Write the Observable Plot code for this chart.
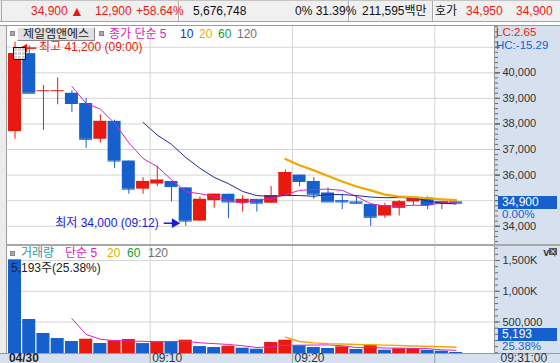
<!DOCTYPE html>
<html><head><meta charset="utf-8">
<script src="https://cdn.jsdelivr.net/npm/d3@7"></script>
<script src="https://cdn.jsdelivr.net/npm/@observablehq/plot@0.6"></script>
<style>
html,body{margin:0;padding:0;background:#fff;}
#wrap{position:relative;width:560px;height:363px;overflow:hidden;background:#fff;font-family:"Liberation Sans","Noto Sans CJK KR",sans-serif;}
#wrap .a{position:absolute;white-space:nowrap;}
#wrap svg{position:absolute;left:0;overflow:visible;}
</style></head>
<body><div id="wrap"></div>
<script>
// ---------- data ----------
const stockName = "제일엠앤에스";
const dateLabel = "04/30";
const times = ["09:00","09:01","09:02","09:03","09:04","09:05","09:06","09:07","09:08","09:09",
  "09:10","09:11","09:12","09:13","09:14","09:15","09:16","09:17","09:18","09:19",
  "09:20","09:21","09:22","09:23","09:24","09:25","09:26","09:27","09:28","09:29","09:30","09:31"];
const opens  = [37700,40750,39300,39300,39200,38800,37400,38100,36550,35450,35650,35750,35500,34200,35000,35250,
  34900,35050,34900,35200,36000,35750,35300,35000,34950,34850,34400,34700,34950,35100,34850,34950];
const highs  = [41200,41050,39500,39800,39300,39000,38350,38150,36550,35900,36350,35750,35500,35150,35250,35250,
  35200,35050,35550,36200,36000,35900,35500,35250,35200,34850,34900,35000,35150,35150,34950,34950];
const lows   = [37400,39200,37750,38750,38450,37050,37250,36250,35250,35250,35550,34950,34000,34200,34700,34300,
  34550,34550,34900,35200,35550,35050,34950,34650,34850,34000,34300,34400,34800,34650,34650,34900];
const closes = [40750,39200,39300,39300,38800,37400,38100,36550,35450,35750,35800,35550,34200,35050,35250,34950,
  35050,34900,35200,36100,35750,35250,34950,34950,34900,34350,34800,34950,35100,34850,34950,34900];
const volumes = [1511000,541000,314000,232000,184000,221000,151000,195000,216000,150000,179000,176000,205000,102000,86000,107000,
  75000,58000,167000,205000,114000,86000,70000,97000,54000,124000,42000,65000,66000,40000,26000,5193];
const gridTimes = ["09:10","09:20","09:30"];
const axisTimes = ["09:10","09:20"];
const priceTicks = [34000,35000,36000,37000,38000,39000,40000,41000];
const priceLabelTicks = [34000,36000,37000,38000,39000,40000];
const volTicks = [500000,1000000,1500000];
const header = {price:"34,900", change:"12,900", pct:"+58.64%", volume:"5,676,748", turn:"0% 31.39%", amount:"211,595백만", ask:"34,950", bid:"34,900"};
const volPctText = "25.38%";
const pricePctText = "0.00%";

// ---------- styles ----------
const UP = "#e81a10", DN = "#1560cc";
const MA5C = "#e020c0", MA10C = "#1a2a9e", MA20C = "#f0a800", MA60C = "#10a030", MA120C = "#707070";
const GRID = "#d4d4d4", PANEL = "#d6e0ee", BORDER = "#9a9a9a";

const wrap = document.getElementById("wrap");
function el(css, text) {
  const d = document.createElement("div");
  d.className = "a";
  d.style.cssText = css;
  if (text != null) d.textContent = text;
  wrap.appendChild(d);
  return d;
}

const N = times.length;
const candles = times.map((t, k) => ({i: k + 1, t, o: opens[k], h: highs[k], l: lows[k], c: closes[k], v: volumes[k]}));
candles.forEach((d, k) => {
  const prev = k ? candles[k - 1].c : d.o;
  d.pc = d.c > d.o ? UP : d.c < d.o ? DN : (d.c >= prev ? UP : DN);
  d.vc = k && d.v > candles[k - 1].v ? UP : DN;
});
const idxOf = t => times.indexOf(t) + 1;
const HW = 0.457;
const W = 560, ML = 7.39, MR = 66;
const xScale = {type: "linear", domain: [0.5, 34.7], axis: null};
const fmt = d3.format(",");
const ma = (k) => ({k, anchor: "end", strict: true, reduce: v => v.length < k ? NaN : d3.mean(v)});

// ---------- backgrounds / frames ----------
el(`left:0;top:0;width:560px;height:22px;background:#f0f0f0;border-top:1px solid #c4c4c4;border-bottom:1px solid #a4a4a4;box-sizing:border-box;`);
el(`left:1px;top:1px;width:1px;height:20px;background:#a8a8a8;`);
[178, 348, 432].forEach(x => { el(`left:${x}px;top:1px;width:1px;height:20px;background:#a8a8a8;`); el(`left:${x+1}px;top:1px;width:1px;height:20px;background:#fff;`); });
el(`left:0;top:26px;width:6px;height:337px;background:#ececec;border-right:1px solid ${BORDER};`);
el(`left:494px;top:26px;width:66px;height:337px;background:${PANEL};border-left:1px solid ${BORDER};box-sizing:border-box;`);
el(`left:0;top:353px;width:560px;height:10px;background:${PANEL};border-top:1px solid ${BORDER};box-sizing:border-box;`);
el(`left:0;top:25px;width:560px;height:1px;background:${BORDER};`);

// ---------- header texts ----------
const hs = "top:0;line-height:22px;font-size:12px;";
el(`${hs}left:31px;color:${UP};`, header.price);
el(`top:0;line-height:22px;font-size:14px;left:70px;color:${UP};`, "▲");
el(`${hs}left:95px;color:${UP};`, header.change);
el(`${hs}left:136px;color:${UP};`, header.pct);
el(`${hs}left:193px;color:#111;`, header.volume);
el(`${hs}left:295px;color:#111;`, header.turn);
el(`${hs}left:362px;color:#111;`, header.amount);
el(`${hs}left:435px;color:#111;`, "호가");
el(`${hs}left:466px;color:${UP};`, header.ask);
el(`${hs}left:516px;color:${UP};`, header.bid);

// ---------- price panel ----------
const PT = 26, PH = 219;
const price = Plot.plot({
  width: W, height: PH, marginLeft: ML, marginRight: MR, marginTop: 0, marginBottom: 0,
  x: xScale,
  y: {domain: [33246, 41811], axis: null},
  color: {type: "identity"},
  style: {background: "transparent", overflow: "visible", fontFamily: "Liberation Sans, Noto Sans CJK KR, sans-serif", fontSize: "11px", color: "#333"},
  marks: [
    Plot.ruleY(priceTicks, {stroke: GRID}),
    Plot.ruleX(gridTimes, {x: t => idxOf(t) - 0.5, stroke: GRID}),
    Plot.ruleX(candles, {x: "i", y1: "l", y2: "h", stroke: "pc"}),
    Plot.rect(candles, {x1: d => d.i - HW, x2: d => d.i + HW, y1: "o", y2: "c", fill: "pc"}),
    Plot.ruleY(candles, {y: "c", x1: d => d.i - HW, x2: d => d.i + HW, stroke: "pc"}),
    Plot.lineY(candles, Plot.windowY(ma(5), {x: "i", y: "c", stroke: MA5C, strokeWidth: 1})),
    Plot.lineY(candles, Plot.windowY(ma(10), {x: "i", y: "c", stroke: MA10C, strokeWidth: 1})),
    Plot.lineY(candles, Plot.windowY(ma(20), {x: "i", y: "c", stroke: MA20C, strokeWidth: 2.2})),
    // highest / lowest annotations
    Plot.text([candles[d3.maxIndex(highs)]], {x: "i", y: "h", text: d => `최고 ${fmt(d.h)} (${d.t})`, dx: 24, dy: 5, textAnchor: "start", fill: UP, fontSize: 12}),
    Plot.link([candles[d3.maxIndex(highs)]], {x1: d => d.i + 0.6, x2: d => d.i + 1.5, y1: "h", y2: "h", dy: 6, stroke: UP, strokeWidth: 1.5}),
    Plot.dot([candles[d3.maxIndex(highs)]], {x: d => d.i + 0.68, y: "h", dy: 6, symbol: "triangle", rotate: -90, r: 3.2, fill: UP, stroke: "none"}),
    Plot.text([candles[d3.minIndex(lows)]], {x: "i", y: "l", text: d => `최저 ${fmt(d.l)} (${d.t})`, dx: -27, dy: -3, textAnchor: "end", fill: "#1a1ae0", fontSize: 12}),
    Plot.link([candles[d3.minIndex(lows)]], {x1: d => d.i - 1.55, x2: d => d.i - 0.7, y1: "l", y2: "l", dy: -3, stroke: "#1a1ae0", strokeWidth: 1.5}),
    Plot.dot([candles[d3.minIndex(lows)]], {x: d => d.i - 0.78, y: "l", dy: -3, symbol: "triangle", rotate: 90, r: 3.6, fill: "#1a1ae0", stroke: "none"}),
    // right axis
    Plot.axisY({anchor: "right", ticks: d3.range(33400, 41801, 200), tickSize: 3, tickFormat: () => "", stroke: "#666"}),
    Plot.axisY({anchor: "right", ticks: priceTicks, tickSize: 5, tickFormat: () => "", stroke: "#666"}),
    Plot.axisY({anchor: "right", ticks: priceLabelTicks, tickSize: 5, tickPadding: 3, tickFormat: fmt, stroke: "#666", fill: "#333"})
  ]
});
price.style.top = PT + "px";
wrap.appendChild(price);
const py = v => price.scale("y").apply(v) + PT;

// ---------- volume panel ----------
const VT = 245, VH = 108;
const vol = Plot.plot({
  width: W, height: VH, marginLeft: ML, marginRight: MR, marginTop: 0, marginBottom: 0,
  x: xScale,
  y: {domain: [-11375, 1743581], axis: null},
  color: {type: "identity"},
  style: {background: "transparent", overflow: "visible", fontFamily: "Liberation Sans, Noto Sans CJK KR, sans-serif", fontSize: "11px", color: "#333"},
  marks: [
    Plot.ruleY(volTicks, {stroke: GRID}),
    Plot.ruleX(gridTimes, {x: t => idxOf(t) - 0.5, stroke: GRID}),
    Plot.rect(candles, {x1: d => d.i - HW, x2: d => d.i + HW, y1: -11375, y2: "v", fill: "vc"}),
    Plot.lineY(candles, Plot.windowY(ma(5), {x: "i", y: "v", stroke: MA5C, strokeWidth: 1})),
    Plot.lineY(candles, Plot.windowY(ma(20), {x: "i", y: "v", stroke: MA20C, strokeWidth: 1.4})),
    Plot.axisY({anchor: "right", ticks: d3.range(0, 1700001, 100000), tickSize: 3, tickFormat: () => "", stroke: "#666"}),
    Plot.axisY({anchor: "right", ticks: volTicks, tickSize: 5, tickPadding: 3, tickFormat: d => d >= 1000000 ? fmt(d / 1000) + "K" : fmt(d), stroke: "#666", fill: "#333"})
  ]
});
vol.style.top = VT + "px";
wrap.appendChild(vol);
el(`left:6px;top:${VT-1}px;width:554px;height:2px;background:#a8a8a8;`);

// ---------- x axis ----------
const xa = Plot.plot({
  width: W, height: 10, marginLeft: ML, marginRight: MR, marginTop: 0, marginBottom: 0,
  x: xScale, y: {axis: null},
  style: {background: "transparent", overflow: "visible", fontFamily: "Liberation Sans, sans-serif", fontSize: "12px", color: "#333"},
  marks: [
    Plot.ruleX(gridTimes, {x: t => idxOf(t) - 0.5, stroke: BORDER}),
    Plot.text(axisTimes, {x: t => idxOf(t) - 0.5, text: t => t, frameAnchor: "top", lineAnchor: "top", textAnchor: "start", dx: 2, dy: 0, fill: "#333"}),
    Plot.text([dateLabel], {x: 0.5, text: d => d, frameAnchor: "top", lineAnchor: "top", textAnchor: "start", dx: 1, dy: 0, fill: "#222", fontWeight: "bold"}),
    Plot.text([times[N - 1] + ":00"], {x: 34.7, text: d => d, frameAnchor: "top", lineAnchor: "top", textAnchor: "start", dx: 6, dy: 0, fill: "#333"})
  ]
});
xa.style.top = "353px";
wrap.appendChild(xa);

// ---------- price panel overlays ----------
const last = candles[N - 1];
const hiV = d3.max(highs), loV = d3.min(lows);
el(`left:496px;top:26px;line-height:13px;font-size:11.5px;color:${UP};`, `LC:${((last.c - loV) / loV * 100).toFixed(2)}`);
el(`left:496px;top:39px;line-height:13px;font-size:11.5px;color:${DN};`, `HC:${((last.c - hiV) / hiV * 100).toFixed(2)}`);
el(`left:498px;top:${py(last.c) - 6.5}px;width:59px;height:13px;background:${DN};color:#fff;font-size:12px;line-height:13px;padding-left:4px;box-sizing:border-box;`, fmt(last.c));
el(`left:502px;top:${py(last.c) + 5}px;line-height:13px;font-size:11.5px;color:${DN};`, pricePctText);

// price legend
el(`left:10px;top:31px;width:5px;height:5px;background:#a8a8a8;border:1px solid #888;box-sizing:border-box;`);
el(`left:17px;top:27px;width:78px;height:14px;background:#e0e0e0;border:1px solid;border-color:#f8f8f8 #888 #888 #f8f8f8;box-sizing:border-box;font-size:12px;line-height:12px;color:#222;text-align:center;overflow:hidden;`, stockName);
el(`left:99px;top:31px;width:5px;height:5px;background:#a8a8a8;border:1px solid #888;box-sizing:border-box;`);
const lg = "top:27px;line-height:14px;font-size:12px;";
el(`${lg}left:109px;color:${MA5C};`, "종가 단순 5");
el(`${lg}left:180px;color:#1030c8;`, "10");
el(`${lg}left:199px;color:${MA20C};`, "20");
el(`${lg}left:218px;color:${MA60C};`, "60");
el(`${lg}left:237px;color:${MA120C};`, "120");
// small table icon
const ic = el(`left:13px;top:47px;width:13px;height:13px;background:#cfcfcf;border:1px solid #111;box-sizing:border-box;`);
ic.style.backgroundImage = "linear-gradient(#fff,#fff),linear-gradient(#fff,#fff),linear-gradient(90deg,#fff,#fff),linear-gradient(90deg,#fff,#fff)";
ic.style.backgroundSize = "100% 1px,100% 1px,1px 100%,1px 100%";
ic.style.backgroundPosition = "0 3px,0 7px,3px 0,7px 0";
ic.style.backgroundRepeat = "no-repeat";

// ---------- volume overlays ----------
el(`left:10px;top:251px;width:5px;height:5px;background:#a8a8a8;border:1px solid #888;box-sizing:border-box;`);
const vl = "top:246px;line-height:15px;font-size:12px;";
el(`${vl}left:21px;color:#2e9a9a;`, "거래량");
el(`${vl}left:65px;color:${MA5C};`, "단순 5");
el(`${vl}left:107px;color:${MA20C};`, "20");
el(`${vl}left:127px;color:${MA60C};`, "60");
el(`${vl}left:148px;color:${MA120C};`, "120");
el(`left:11px;top:261px;line-height:14px;font-size:12px;color:#222;`, `${fmt(last.v)}주(${volPctText})`);
el(`left:498px;top:328px;width:59px;height:13px;background:${DN};color:#fff;font-size:12px;line-height:13px;padding-left:4px;box-sizing:border-box;`, fmt(last.v));
el(`left:502px;top:340px;line-height:12px;font-size:11.5px;color:${DN};`, volPctText);
// close icon (drawn, not text)
const cx = el(`left:549px;top:248px;width:8px;height:7px;background:#555;`);
cx.innerHTML = '<svg width="8" height="7" style="position:absolute;left:0;top:0"><path d="M2,1.5L6,5.5M6,1.5L2,5.5" stroke="#fff" stroke-width="1"/></svg>';
</script></body></html>
